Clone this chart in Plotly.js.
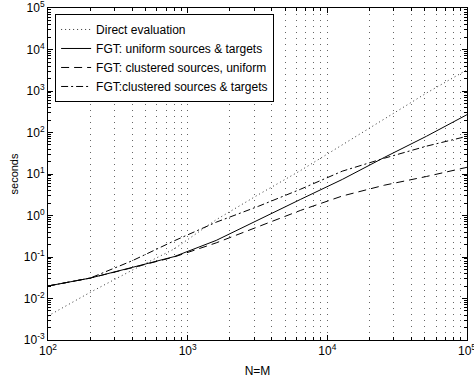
<!DOCTYPE html>
<html>
<head>
<meta charset="utf-8">
<script src="https://cdn.plot.ly/plotly-3.0.1.min.js"></script>
<style>html,body{margin:0;padding:0;background:#fff;}#chart{width:474px;height:379px;}</style>
</head>
<body>
<div id="chart"></div>
<script>
// N = M (number of sources = number of targets)
var N = [100, 200, 400, 800, 1600, 3200, 6400, 12800, 25600, 51200, 100000];
// seconds
var directEval   = [0.0038, 0.014, 0.048, 0.156, 0.79, 3.16, 12.0, 51, 214, 890, 3240];
var fgtUniform   = [0.020, 0.031, 0.056, 0.102, 0.251, 0.79, 2.43, 7.4, 25.1, 81, 269];
var fgtClustSrc  = [0.020, 0.031, 0.055, 0.100, 0.219, 0.537, 1.32, 2.95, 5.37, 8.7, 14.5];
var fgtClustBoth = [0.020, 0.031, 0.081, 0.245, 0.69, 1.66, 4.27, 11.7, 24.0, 46.8, 81];

var seriesNames = ['Direct evaluation', 'FGT: uniform sources & targets',
                   'FGT: clustered sources, uniform', 'FGT:clustered sources & targets'];

var xMajor = [100, 1000, 10000, 100000];
var xMajorText = ['10<sup>2</sup>', '10<sup>3</sup>', '10<sup>4</sup>', '10<sup>5</sup>'];
var yMajor = [0.001, 0.01, 0.1, 1, 10, 100, 1000, 10000, 100000];
var yMajorText = ['10<sup>-3</sup>', '10<sup>-2</sup>', '10<sup>-1</sup>', '10<sup>0</sup>', '10<sup>1</sup>',
                  '10<sup>2</sup>', '10<sup>3</sup>', '10<sup>4</sup>', '10<sup>5</sup>'];

function minorVals(lo, hi) {
  var v = [];
  for (var d = lo; d < hi; d++) for (var k = 2; k <= 9; k++) v.push(k * Math.pow(10, d));
  return v;
}

function tr(y, name, dash, color) {
  return {x: N, y: y, name: name, mode: 'lines', hoverinfo: 'skip',
          line: {color: color || '#000', width: 1, dash: dash}};
}
var data = [
  tr(directEval, seriesNames[0], '1px,3px', '#333'),
  tr(fgtUniform, seriesNames[1], 'solid'),
  tr(fgtClustSrc, seriesNames[2], '8px,5px'),
  tr(fgtClustBoth, seriesNames[3], '7px,3px,2px,3px')
];

var fam = 'Liberation Sans, Arial, sans-serif';
var layout = {
  width: 474, height: 379,
  margin: {l: 48, r: 7, t: 8, b: 39},
  paper_bgcolor: '#fff', plot_bgcolor: '#fff',
  font: {family: fam, size: 12, color: '#000'},
  showlegend: true,
  legend: {x: 0.017, y: 0.982, xanchor: 'left', yanchor: 'top', bgcolor: '#fff',
           bordercolor: '#000', borderwidth: 1, font: {family: fam, size: 12, color: '#000'},
           tracegroupgap: 0},
  xaxis: {
    type: 'log', range: [1.9999, 5.0001], tickmode: 'array', tickvals: xMajor, ticktext: xMajorText,
    ticks: 'inside', ticklen: 5, tickcolor: '#000', showline: true, linecolor: '#000', linewidth: 1,
    mirror: 'ticks', zeroline: false, ticklabeloverflow: 'allow',
    showgrid: true, gridcolor: '#666', gridwidth: 1, griddash: '1px,5px',
    minor: {tickmode: 'array', tickvals: minorVals(2, 5), ticks: 'inside', ticklen: 3, tickcolor: '#000',
            showgrid: true, gridcolor: '#666', gridwidth: 1, griddash: '1px,5px'},
    title: {text: 'N=M', font: {family: fam, size: 12, color: '#000'}, standoff: 9},
    tickfont: {family: fam, size: 12, color: '#000'}
  },
  yaxis: {
    type: 'log', range: [-3.0001, 5.0001], tickmode: 'array', tickvals: yMajor, ticktext: yMajorText,
    ticks: 'inside', ticklen: 5, tickcolor: '#000', showline: true, linecolor: '#000', linewidth: 1,
    mirror: 'ticks', zeroline: false, showgrid: false, ticklabeloverflow: 'allow',
    minor: {tickmode: 'array', tickvals: minorVals(-3, 5), ticks: 'inside', ticklen: 3, tickcolor: '#000', showgrid: false},
    title: {text: 'seconds', font: {family: fam, size: 11, color: '#000'}, standoff: 2},
    tickfont: {family: fam, size: 12, color: '#000'}
  }
};

Plotly.newPlot('chart', data, layout, {staticPlot: true, displayModeBar: false});
</script>
</body>
</html>
